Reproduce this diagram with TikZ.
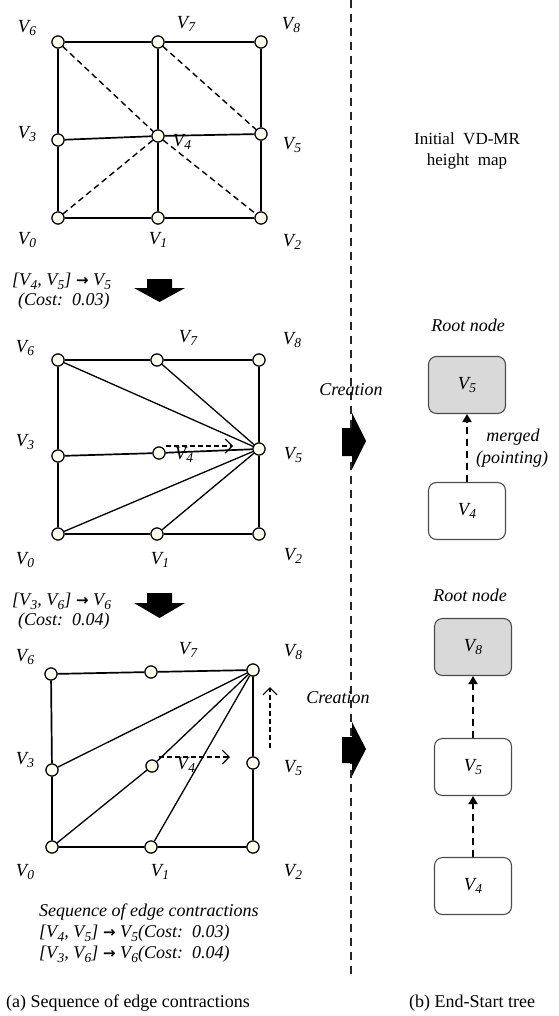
\documentclass[tikz,border=0pt]{standalone}
\usepackage{fontspec}
\setmainfont{Liberation Serif}
\newfontfamily\djv{DejaVu Sans}
\usetikzlibrary{arrows.meta}
\newcommand\Vx[1]{\textit{V\kern0.4pt\raisebox{-0.45ex}{\fontsize{13.5}{13.5}\selectfont #1}}}
\newcommand\Ar{{\djv\bfseries\fontsize{15}{15}\selectfont →}}
\begin{document}
\begin{tikzpicture}[x=1pt,y=-1pt,
  vtx/.style={circle,draw=black,fill=white!94!yellow,line width=1.1pt,minimum size=12pt,inner sep=0pt},
  gl/.style={line width=1.7pt,black},
  fan/.style={line width=1.3pt,black},
  dgl/.style={line width=1.4pt,dash pattern=on 6pt off 4pt},
  lbl/.style={font=\fontsize{18.5}{20}\selectfont,inner sep=0pt},
  txt/.style={font=\fontsize{18}{20}\selectfont\itshape,inner sep=0pt},
  captxt/.style={font=\fontsize{18}{20}\selectfont,inner sep=0pt},
  tbox/.style={draw=black!70,line width=1.1pt,rounded corners=8pt,minimum width=77pt,minimum height=57pt,font=\fontsize{18.5}{20}\selectfont},
  troot/.style={tbox,fill=black!15},
  tarr/.style={line width=1.8pt,dash pattern=on 7pt off 5pt,-{Triangle[length=8pt,width=9pt]}},
  oarr/.style={line width=1.3pt,dash pattern=on 5pt off 3pt,-{Straight Barb[length=7pt,width=14pt,line width=1.2pt]}},
  blk/.style={fill=black}]
\useasboundingbox (0,0) rectangle (558,1016);

% ---------- grid 1 ----------
\node[vtx] (a6) at (58,42) {}; \node[vtx] (a7) at (158,42) {}; \node[vtx] (a8) at (261,42) {};
\node[vtx] (a3) at (58,140) {}; \node[vtx] (a4) at (158,136) {}; \node[vtx] (a5) at (261,134) {};
\node[vtx] (a0) at (58,218) {}; \node[vtx] (a1) at (158,218) {}; \node[vtx] (a2) at (261,218) {};
\draw[gl] (a6) -- (a7) -- (a8) -- (a5) -- (a2) -- (a1) -- (a0) -- (a3) -- (a6);
\draw[gl] (a3) -- (a4) -- (a5);
\draw[gl] (a7) -- (a4) -- (a1);
\draw[dgl] (a6) -- (a4) -- (a2);
\draw[dgl] (a7) -- (a5);
\draw[dgl] (a0) -- (a4);
\foreach \n in {0,...,8} {\node[vtx] at (a\n) {};}
\node[lbl] (la6) at (27,28) {\Vx{6}};
\node[lbl] (la7) at (186,24) {\Vx{7}};
\node[lbl] (la8) at (291,25) {\Vx{8}};
\node[lbl] (la3) at (27,134) {\Vx{3}};
\node[lbl] (la4) at (182,142) {\Vx{4}};
\node[lbl] (la5) at (292,145) {\Vx{5}};
\node[lbl] (la0) at (27,240) {\Vx{0}};
\node[lbl] (la1) at (158,240) {\Vx{1}};
\node[lbl] (la2) at (292,242) {\Vx{2}};

% ---------- step text 1 ----------
\node[txt,anchor=west] (s1a) at (12,281) {[\Vx{4}, \Vx{5}] \Ar\ \Vx{5}};
\node[txt,anchor=west] (s1b) at (18,301) {(Cost:\ \ 0.03)};
\fill[blk] (147,279) -- (172,279) -- (172,288) -- (185,288) -- (159.5,302) -- (134,288) -- (147,288) -- cycle;

% ---------- grid 2 ----------
\node[vtx] (b6) at (58,360) {}; \node[vtx] (b7) at (157,360) {}; \node[vtx] (b8) at (259,360) {};
\node[vtx] (b3) at (58,456) {}; \node[vtx] (b4) at (159,453) {}; \node[vtx] (b5) at (259,449) {};
\node[vtx] (b0) at (58,534) {}; \node[vtx] (b1) at (157,534) {}; \node[vtx] (b2) at (259,534) {};
\draw[gl] (b6) -- (b7) -- (b8) -- (b5) -- (b2) -- (b1) -- (b0) -- (b3) -- (b6);
\draw[gl] (b3) -- (b4) -- (b5);
\draw[fan] (b5) -- (b6); \draw[fan] (b5) -- (b7);
\draw[fan] (b5) -- (b0); \draw[fan] (b5) -- (b1);
\foreach \n in {0,...,8} {\node[vtx] at (b\n) {};}
\coordinate (b4e) at (233,446);
\draw[oarr] (b4.east |- b4e) -- (b4e);
\node[lbl] (lb6) at (25,348) {\Vx{6}};
\node[lbl] (lb7) at (188,338) {\Vx{7}};
\node[lbl] (lb8) at (292,340) {\Vx{8}};
\node[lbl] (lb3) at (25,442) {\Vx{3}};
\node[lbl] (lb4) at (184,455) {\Vx{4}};
\node[lbl] (lb5) at (293,455) {\Vx{5}};
\node[lbl] (lb0) at (25,560) {\Vx{0}};
\node[lbl] (lb1) at (160,560) {\Vx{1}};
\node[lbl] (lb2) at (293,556) {\Vx{2}};

% ---------- step text 2 ----------
\node[txt,anchor=west] (s2a) at (12,601) {[\Vx{3}, \Vx{6}] \Ar\ \Vx{6}};
\node[txt,anchor=west] (s2b) at (18,621) {(Cost:\ \ 0.04)};
\fill[blk] (147,593) -- (172,593) -- (172,603) -- (185,603) -- (159.5,618) -- (134,603) -- (147,603) -- cycle;

% ---------- grid 3 ----------
\node[vtx] (c6) at (51,674) {}; \node[vtx] (c7) at (151,672) {}; \node[vtx] (c8) at (253,670) {};
\node[vtx] (c3) at (52,770) {}; \node[vtx] (c4) at (152,766) {}; \node[vtx] (c5) at (253,763) {};
\node[vtx] (c0) at (52,847) {}; \node[vtx] (c1) at (151,847) {}; \node[vtx] (c2) at (253,847) {};
\draw[gl] (c6) -- (c7) -- (c8) -- (c5) -- (c2) -- (c1) -- (c0) -- (c3) -- (c6);
\draw[fan] (c8) -- (c3); \draw[fan] (c8) -- (c4) -- (c0); \draw[fan] (c8) -- (c1);
\foreach \n in {0,...,8} {\node[vtx] at (c\n) {};}
\coordinate (c4e) at (230,757);
\draw[oarr] (c4.east |- c4e) -- (c4e);
\coordinate (cvb) at (270,748); \coordinate (cvt) at (270,687);
\draw[oarr] (cvb) -- (cvt);
\node[lbl] (lc6) at (25,657) {\Vx{6}};
\node[lbl] (lc7) at (188,650) {\Vx{7}};
\node[lbl] (lc8) at (293,652) {\Vx{8}};
\node[lbl] (lc3) at (25,760) {\Vx{3}};
\node[lbl] (lc4) at (186,765) {\Vx{4}};
\node[lbl] (lc5) at (293,768) {\Vx{5}};
\node[lbl] (lc0) at (25,872) {\Vx{0}};
\node[lbl] (lc1) at (160,872) {\Vx{1}};
\node[lbl] (lc2) at (293,872) {\Vx{2}};

% ---------- sequence text ----------
\node[txt,anchor=west] (q1) at (39,912) {Sequence of edge contractions};
\node[txt,anchor=west] (q2) at (39,933) {[\Vx{4}, \Vx{5}] \Ar\ \Vx{5}(Cost:\ \ 0.03)};
\node[txt,anchor=west] (q3) at (39,954) {[\Vx{3}, \Vx{6}] \Ar\ \Vx{6}(Cost:\ \ 0.04)};

% ---------- separator ----------
\coordinate (sepT) at (351,0); \coordinate (sepB) at (351,975);
\draw[line width=1.8pt,black!85,dash pattern=on 8pt off 6pt] (sepT) -- (sepB);

% ---------- right side ----------
\node[captxt,align=center,font=\fontsize{17}{21}\selectfont] (init) at (467,151) {Initial\ \ VD-MR\\height\ \ map};

\node[txt] (r1) at (468,325) {Root node};
\node[troot] (t1r) at (467,385) {\Vx{5}};
\node[tbox] (t1a) at (467,511) {\Vx{4}};
\draw[tarr] (t1a) -- (t1r);
\node[txt] (mg1) at (513,437) {merged};
\node[txt] (mg2) at (512,459) {(pointing)};
\node[txt] (cr1) at (351,390) {Creation};
\fill[blk] (342,428) -- (352,428) -- (352,413) -- (366,441) -- (352,469) -- (352,456) -- (342,456) -- cycle;

\node[txt] (r2) at (470,595) {Root node};
\node[troot] (t2r) at (473,647) {\Vx{8}};
\node[tbox] (t2b) at (473,767) {\Vx{5}};
\node[tbox] (t2a) at (473,886) {\Vx{4}};
\draw[tarr] (t2b) -- (t2r);
\draw[tarr] (t2a) -- (t2b);
\node[txt] (cr2) at (338,698) {Creation};
\fill[blk] (342,737) -- (352,737) -- (352,722) -- (366,749) -- (352,776) -- (352,763) -- (342,763) -- cycle;

% ---------- captions ----------
\node[captxt] (capa) at (128,1003) {(a) Sequence of edge contractions};
\node[captxt] (capb) at (472,1003) {(b) End-Start tree};
\end{tikzpicture}
\end{document}
